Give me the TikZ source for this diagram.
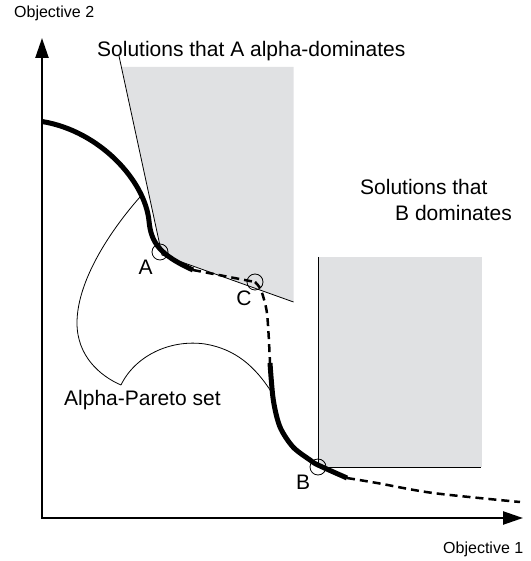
\documentclass[tikz,border=0pt]{standalone}
\usepackage{fontspec}
\setmainfont{Liberation Sans}
\usepackage{tikz}
\usetikzlibrary{arrows.meta}
\definecolor{shadegrey}{RGB}{224,225,227}

\begin{document}
\begin{tikzpicture}[
  x=1pt, y=1pt,
  axis/.style={line width=2.4pt, line join=miter,
               {Triangle[length=20pt,width=13pt]}-{Triangle[length=20pt,width=13pt]}},
  front/.style={line width=5pt},
  gap/.style={line width=2.5pt, dash pattern=on 8pt off 5pt},
  thinline/.style={line width=0.8pt},
  ring/.style={circle, draw, line width=0.8pt, minimum size=16pt, inner sep=0pt},
  biglbl/.style={font=\fontsize{21}{26}\selectfont, inner sep=0pt},
  axlbl/.style={font=\fontsize{16}{19}\selectfont, inner sep=0pt},
]
\useasboundingbox (0,0) rectangle (530,561);

% dominated regions
\fill[shadegrey] (121.4,494) -- (293.5,494) -- (293.5,259) -- (162,306) -- cycle;
\fill[shadegrey] (318,94) rectangle (482,304);
\draw[thinline] (119,505) -- (162,306) -- (293.5,259);
\draw[thinline] (318,304) -- (318,94) -- (481,94);

% alpha-Pareto set
\draw[thinline] (140,364) .. controls (110,330) and (77,280) .. (77,238)
  .. controls (77,205) and (100,185) .. (121,176);
\draw[thinline] (121,176) .. controls (135,205) and (170,222) .. (205,217)
  .. controls (235,212) and (255,195) .. (272,168);

% Pareto front
\draw[front] (42,439.5) .. controls (100,430) and (145,380) .. (149,340)
  .. controls (151,318) and (160,306) .. (193,291);
\draw[gap] plot[smooth] coordinates {(193,291) (224,285) (255,279)};
\draw[gap] plot[smooth] coordinates {(255,279) (261,271) (266.5,251) (268.5,228) (270,198)};
\draw[front] plot[smooth] coordinates {(270,198) (273.3,161) (280,134) (293,114)
  (310,101) (318,96) (347,83)};
\draw[gap] plot[smooth] coordinates {(347,83) (377,78) (433,68) (520,59)};

% axes
\draw[axis] (42,523) -- (42,43) -- (523,43);

\node[ring] (A) at (160,309) {};
\node[ring] (C) at (255,279) {};
\node[ring] (B) at (318,94) {};

\node[biglbl, anchor=base] (labA) at (145.7,286) {A};
\node[biglbl, anchor=base] (labC) at (244,255) {C};
\node[biglbl, anchor=base] (labB) at (303,71) {B};

\node[axlbl, anchor=base west] (obj2) at (14,543) {Objective 2};
\node[axlbl, anchor=base west] (obj1) at (443,8) {Objective 1};
\node[biglbl, anchor=base west] (alphadom) at (97,504) {Solutions that A alpha-dominates};
\node[biglbl, anchor=base west, align=left] (bdom) at (360,340)
  {Solutions that\\\hspace*{35pt}B dominates};
\node[biglbl, anchor=base west] (aset) at (64,155) {Alpha-Pareto set};

\end{tikzpicture}
\end{document}
